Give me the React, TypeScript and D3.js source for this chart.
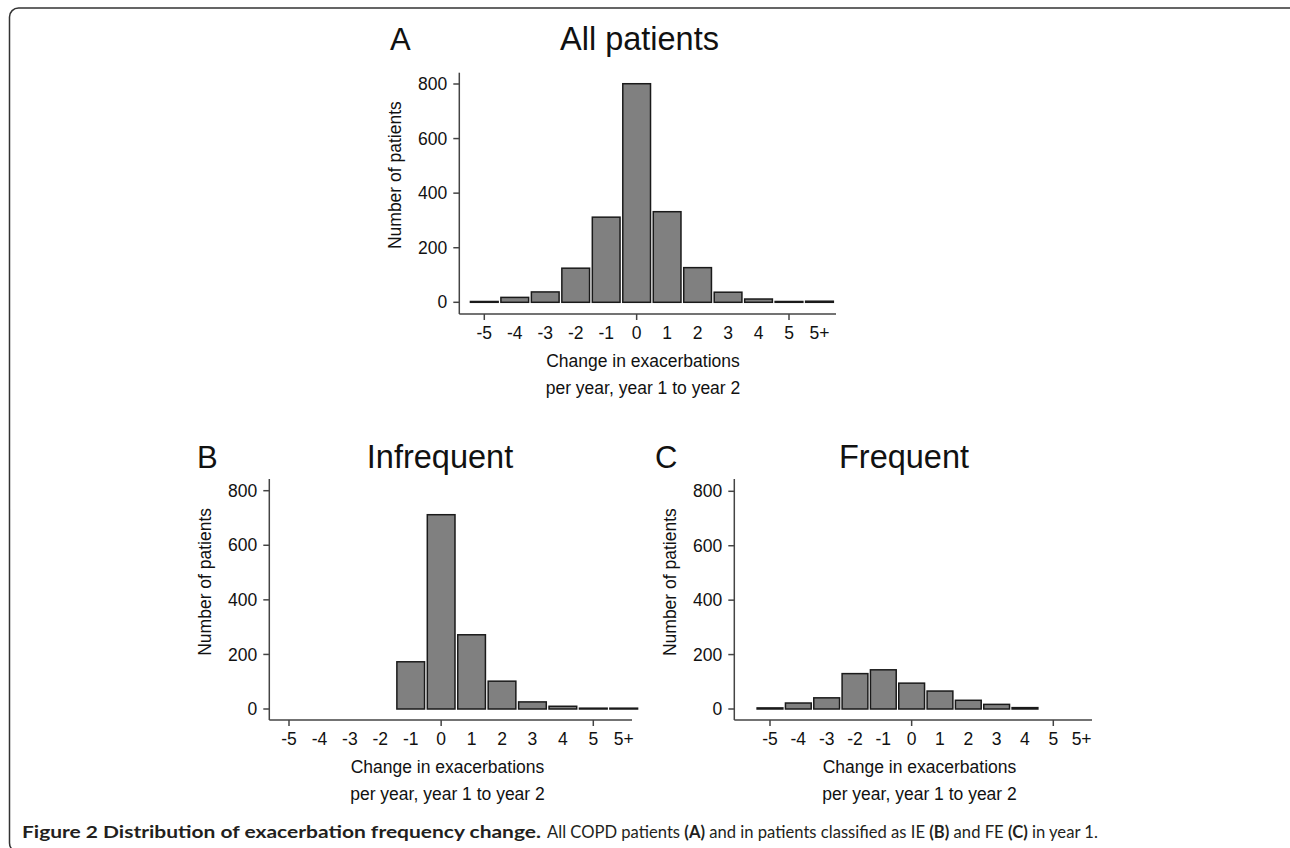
import React, { useLayoutEffect, useRef, useState } from 'react';
import * as d3 from 'd3';

// Category labels along the x axis (5+ sits one step right of 5)
const categories = ['-5', '-4', '-3', '-2', '-1', '0', '1', '2', '3', '4', '5', '5+'];
const categoryPos = [-5, -4, -3, -2, -1, 0, 1, 2, 3, 4, 5, 6];

// Number of patients per category
const allPatients = [3, 18, 38, 125, 312, 801, 332, 127, 37, 12, 3, 4];
const infrequent = [0, 0, 0, 0, 173, 712, 272, 102, 26, 10, 3, 3];
const frequent = [4, 22, 41, 130, 144, 95, 66, 32, 17, 5, 0, 0];

const yTicks = [0, 200, 400, 600, 800];
const xMajorTicks = [-5, 0, 5];

const chartFont = '"Liberation Sans", Arial, Helvetica, sans-serif';
const captionFont = 'Lato, "Open Sans", sans-serif';

type PanelProps = {
  letter: string;
  title: string;
  values: number[];
  axisX: number; // y axis line position
  xFrom: number; // pixel of category -5
  xTo: number; // pixel of category 5
  yZero: number;
  yTop: number; // pixel of 800
  axisBottom: number; // x axis line position
  axisTop: number;
  axisRight: number;
  letterX: number;
  titleX: number;
  titleY: number;
  xTitleX: number;
};

const Panel = (p: PanelProps) => {
  const x = d3.scaleLinear().domain([-5, 5]).range([p.xFrom, p.xTo]);
  const y = d3.scaleLinear().domain([0, 800]).range([p.yZero, p.yTop]);
  const step = x(1) - x(0);
  const barW = step * 0.91;
  const labelY = p.axisBottom + 19;
  const yTitleY = (y(0) + y(800)) / 2 - 18;

  return (
    <g fontFamily={chartFont} fill="#111">
      {/* panel letter and title */}
      <text x={p.letterX} y={p.titleY} fontSize={31}>{p.letter}</text>
      <text x={p.titleX} y={p.titleY} fontSize={32.5} textAnchor="middle">{p.title}</text>

      {/* bars */}
      {p.values.map((v, i) =>
        v > 0 ? (
          <rect
            key={i}
            x={x(categoryPos[i]) - barW / 2}
            y={y(v)}
            width={barW}
            height={Math.max(y(0) - y(v), 0.5)}
            fill="#808080"
            stroke="#1a1a1a"
            strokeWidth={1.5}
          />
        ) : null
      )}

      {/* y axis */}
      <line x1={p.axisX} x2={p.axisX} y1={p.axisTop} y2={p.axisBottom} stroke="#444" strokeWidth={1.5} />
      {yTicks.map(t => (
        <g key={t}>
          <line x1={p.axisX - 6} x2={p.axisX} y1={y(t)} y2={y(t)} stroke="#444" strokeWidth={1.5} />
          <text x={p.axisX - 12} y={y(t)} dy="0.35em" fontSize={17.5} textAnchor="end">{t}</text>
        </g>
      ))}
      <text
        transform={`translate(${p.axisX - 64},${yTitleY}) rotate(-90)`}
        dy="0.35em"
        fontSize={17.5}
        textAnchor="middle"
      >
        Number of patients
      </text>

      {/* x axis */}
      <line x1={p.axisX} x2={p.axisRight} y1={p.axisBottom} y2={p.axisBottom} stroke="#444" strokeWidth={1.5} />
      {xMajorTicks.map(t => (
        <line key={t} x1={x(t)} x2={x(t)} y1={p.axisBottom} y2={p.axisBottom + 6} stroke="#444" strokeWidth={1.5} />
      ))}
      {categories.map((c, i) => (
        <text key={c} x={x(categoryPos[i])} y={labelY} dy="0.35em" fontSize={17.5} textAnchor="middle">{c}</text>
      ))}
      <text x={p.xTitleX} y={labelY + 28} dy="0.35em" fontSize={17.5} textAnchor="middle">Change in exacerbations</text>
      <text x={p.xTitleX} y={labelY + 55} dy="0.35em" fontSize={17.5} textAnchor="middle">per year, year 1 to year 2</text>
    </g>
  );
};

// caption squeezed horizontally to the reference widths (narrow Myriad-like face)
const Caption = () => {
  const boldRef = useRef<SVGTextElement>(null);
  const restRef = useRef<SVGTextElement>(null);
  const [k, setK] = useState({ bold: 0.85, rest: 0.85 });

  useLayoutEffect(() => {
    const b = boldRef.current ? boldRef.current.getComputedTextLength() : 0;
    const r = restRef.current ? restRef.current.getComputedTextLength() : 0;
    if (b > 0 && r > 0) setK({ bold: 519 / b, rest: 551 / r });
  }, []);

  return (
    <g fontFamily={captionFont} fontSize={17} fill="#231f20">
      <text ref={boldRef} transform={`translate(22,838) scale(${k.bold},1)`} fontWeight="bold">
        Figure 2 Distribution of exacerbation frequency change.
      </text>
      <text ref={restRef} transform={`translate(547,838) scale(${k.rest},1)`}>
        All COPD patients <tspan fontWeight="bold">(A)</tspan> and in patients classified as IE{' '}
        <tspan fontWeight="bold">(B)</tspan> and FE <tspan fontWeight="bold">(C)</tspan> in year 1.
      </text>
    </g>
  );
};

const App = () => {
  return (
    <svg
      width={1290}
      height={848}
      style={{ position: 'absolute', left: 0, top: 0, background: '#fff' }}
    >
      <rect x={9.5} y={8} width={1290} height={844} rx={9} fill="none" stroke="#333" strokeWidth={1.5} />

      <Panel
        letter="A" title="All patients" values={allPatients}
        axisX={459.3} xFrom={484.3} xTo={789} yZero={302.3} yTop={84}
        axisBottom={314} axisTop={72.7} axisRight={836}
        letterX={390} titleX={639.5} titleY={50} xTitleX={643}
      />
      <Panel
        letter="B" title="Infrequent" values={infrequent}
        axisX={269.3} xFrom={289} xTo={593.3} yZero={709} yTop={490.7}
        axisBottom={720} axisTop={479} axisRight={632}
        letterX={197} titleX={440} titleY={468} xTitleX={447.5}
      />
      <Panel
        letter="C" title="Frequent" values={frequent}
        axisX={734.3} xFrom={770} xTo={1053.3} yZero={709} yTop={491.3}
        axisBottom={720} axisTop={479} axisRight={1092}
        letterX={655} titleX={904} titleY={468} xTitleX={919.5}
      />

      <Caption />
    </svg>
  );
};

export default App;
